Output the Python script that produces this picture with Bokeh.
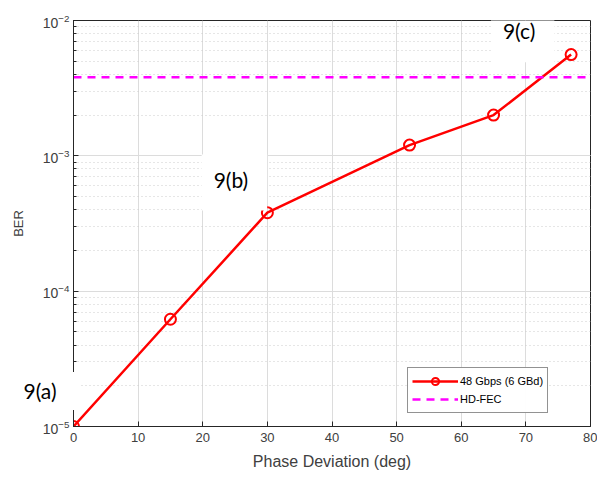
import numpy as np
from bokeh.plotting import figure
from bokeh.models import (LogTicker, SingleIntervalTicker, Label, Legend, LegendItem, Div)
from bokeh.embed import file_html
from bokeh.resources import INLINE

# data
phase_deg = [0, 15, 30, 52, 65, 77]
ber_48g = [1.0e-5, 6.2e-5, 3.8e-4, 1.2e-3, 2.0e-3, 5.6e-3]
hd_fec = 3.8e-3
x_limits = [0, 80]
y_limits = [1e-5, 1e-2]
series_label = "48 Gbps (6 GBd)"
fec_label = "HD-FEC"
annotations = ["9(b)", "9(c)"]
ann_x = [24.9, 69.5]
ann_y = [6.35e-4, 7.9e-3]
outer_annotation = "9(a)"

AX = "#262626"
TICK = "#404040"
FONT = "Liberation Sans"

p = figure(width=597, height=481, x_range=tuple(x_limits), y_range=tuple(y_limits),
           y_axis_type="log", output_backend="svg", toolbar_location=None,
           min_border_left=73, min_border_right=7, min_border_top=20, min_border_bottom=55)
p.background_fill_color = "white"
p.border_fill_color = "white"
p.outline_line_color = AX
p.outline_line_width = 1

xax = p.xaxis[0]
yax = p.yaxis[0]
xax.ticker = SingleIntervalTicker(interval=10, num_minor_ticks=0)
yax.ticker = LogTicker(num_minor_ticks=10)
for ax in (xax, yax):
    ax.axis_line_color = AX
    ax.major_tick_line_color = AX
    ax.minor_tick_line_color = AX
    ax.major_tick_in = 5
    ax.major_tick_out = 0
    ax.minor_tick_in = 3
    ax.minor_tick_out = 0
    ax.major_label_text_font = FONT
    ax.major_label_text_color = TICK
    ax.axis_label_text_font = FONT
    ax.axis_label_text_font_style = "normal"
    ax.axis_label_text_color = TICK
xax.major_label_text_font_size = "13px"
yax.major_label_text_font_size = "14px"
xax.axis_label = "Phase Deviation (deg)"
xax.axis_label_text_font_size = "16px"
xax.major_label_standoff = 6
xax.axis_label_standoff = 8
yax.axis_label = "BER"
yax.axis_label_text_font_size = "13px"
yax.major_label_standoff = 4
yax.axis_label_standoff = 14

# grids
p.xgrid.grid_line_color = "#dcdcdc"
p.ygrid.grid_line_color = "#dcdcdc"
p.ygrid.minor_grid_line_color = "#cccccc"
p.ygrid.minor_grid_line_dash = "1 3"

# series
ln = p.line(phase_deg, ber_48g, line_color="red", line_width=2.5)
mk = p.scatter(phase_deg, ber_48g, marker="circle", size=11, fill_color=None,
               line_color="red", line_width=2)
fec_r = p.line(x_limits, [hd_fec, hd_fec], line_color="magenta", line_width=2.5,
               line_dash="8 6")

legend = Legend(items=[LegendItem(label=series_label, renderers=[ln, mk]),
                       LegendItem(label=fec_label, renderers=[fec_r])],
                location=(334, 13), label_text_font=FONT, label_text_font_size="11px",
                label_text_color="black", glyph_width=46, glyph_height=18,
                label_height=18, spacing=0, padding=4, margin=0,
                border_line_color=AX, border_line_width=1,
                label_standoff=2)
p.add_layout(legend, "center")

# white annotation boxes inside the frame
for t, x, y in zip(annotations, ann_x, ann_y):
    p.add_layout(Label(x=x, y=y, text=t, text_align="center", text_baseline="middle",
                       text_font="Lato", text_font_size="21px", text_color="black",
                       background_fill_color="white", background_fill_alpha=1.0,
                       padding=(12, 19, 12, 19)))

# annotation that sits over the left axis (outside the frame)
outer = Div(text=outer_annotation, styles={
    "position": "absolute", "left": "0px", "top": "372px",
    "width": "80px", "height": "38px", "background-color": "white",
    "font-family": "Lato", "font-size": "21px", "color": "black",
    "display": "flex", "align-items": "center", "justify-content": "center",
    "z-index": "10"})
try:
    p.elements = [outer]
except Exception:
    p.add_layout(Label(x=12, y=35, x_units="screen", y_units="screen",
                       text=outer_annotation, text_align="center", text_baseline="middle",
                       text_font="Lato", text_font_size="21px", text_color="black",
                       background_fill_color="white", background_fill_alpha=1.0,
                       padding=(8, 6, 8, 6)))

open("out.html", "w").write(file_html(p, INLINE))
